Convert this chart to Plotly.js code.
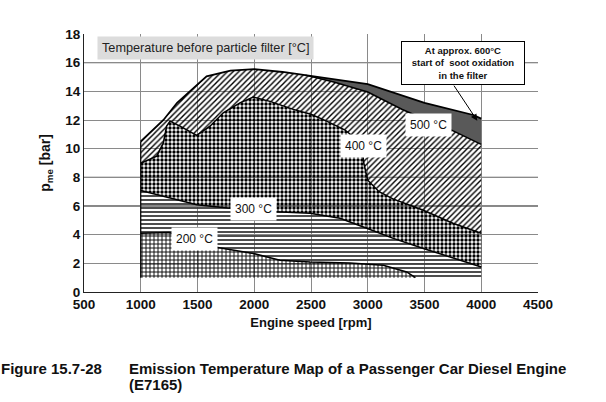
<!DOCTYPE html>
<html>
<head>
<meta charset="utf-8">
<script src="https://cdn.plot.ly/plotly-3.0.1.min.js"></script>
<style>
  html, body { margin: 0; padding: 0; background: #fff; }
  #plot { width: 606px; height: 402px; }
</style>
</head>
<body>
<div id="plot"></div>
<script>
// full load line (upper limit of the map)
let envX = [1000, 1200, 1320, 1450, 1580, 1790, 2000, 2250, 2450, 3000, 3500, 3930, 4000];
let envY = [10.5, 12.0, 13.2, 14.15, 15.05, 15.45, 15.55, 15.35, 15.13, 14.5, 13.2, 12.35, 12.1];

// isotherms
let l500X = [2450, 2700, 3000, 3300, 3500, 3725, 4000];
let l500Y = [15.13, 14.65, 13.95, 12.75, 12.05, 11.35, 10.3];

let l400X = [1000, 1140, 1199, 1228, 1258, 1346, 1493, 1610, 1727, 1874, 1992, 2139, 2344, 2500, 2638, 2800, 2903, 2950, 2965, 3000, 3100, 3222, 3490, 3750, 4000];
let l400Y = [8.98, 9.47, 10.4, 11.57, 11.92, 11.57, 10.92, 11.57, 12.5, 13.2, 13.6, 13.3, 12.74, 12.4, 11.92, 11.3, 10.64, 10.0, 9.0, 7.8, 7.0, 6.5, 5.7, 4.8, 4.1];

let l300X = [1000, 1250, 1493, 1786, 2139, 2491, 2755, 2991, 3225, 3490, 3750, 4000];
let l300Y = [7.08, 6.6, 6.08, 5.85, 5.61, 5.5, 5.15, 4.45, 3.74, 3.04, 2.4, 1.75];

let l200X = [1000, 1250, 1450, 1639, 1992, 2227, 2491, 2844, 3137, 3343, 3420];
let l200Y = [4.1, 4.15, 3.7, 3.16, 2.69, 2.22, 2.1, 2.03, 1.87, 1.4, 1.0];

let pMin = 1.0; // lower edge of the measured map

let tempLabels = ['200 °C', '300 °C', '400 °C', '500 °C'];
let tempLabelX = [1474, 1990, 2960, 3531];
let tempLabelY = [3.7, 5.8, 10.17, 11.62];

// grid lines that came out darker in the original print
let darkGridY = [16, 8, 6];
let darkGridX = [3500];

let font = 'Liberation Sans, Arial, sans-serif';

// helpers to glue curves into band polygons
function rev(a) { return a.slice().reverse(); }
let splitAt = 2450;
let envLeftX = envX.filter(v => v <= splitAt), envLeftY = envY.slice(0, envLeftX.length);
let envRightX = envX.slice(envLeftX.length - 1), envRightY = envY.slice(envLeftX.length - 1);

function band(x, y, pattern, color) {
  let t = {
    x: x, y: y, mode: 'lines', fill: 'toself',
    line: {width: 0, color: 'rgba(0,0,0,0)'},
    hoverinfo: 'skip'
  };
  if (pattern) {
    t.fillcolor = 'rgba(0,0,0,0)';
    t.fillpattern = pattern;
  } else {
    t.fillcolor = color;
  }
  return t;
}

function line(x, y, w) {
  return {x: x, y: y, mode: 'lines', line: {color: '#000', width: w || 1.5}, hoverinfo: 'skip'};
}

let data = [
  // 500-600 °C
  band(envRightX.concat(rev(l500X)), envRightY.concat(rev(l500Y)), null, '#595959'),
  // 400-500 °C
  band(envLeftX.concat(l500X, rev(l400X)), envLeftY.concat(l500Y, rev(l400Y)),
       {shape: '/', fgcolor: '#000', bgcolor: 'rgba(0,0,0,0)', size: 4, solidity: 0.35}),
  // 300-400 °C
  band(l400X.concat(rev(l300X)), l400Y.concat(rev(l300Y)),
       {shape: '.', fgcolor: '#000', bgcolor: 'rgba(0,0,0,0)', size: 4, solidity: 0.55}),
  // 200-300 °C
  band(l300X.concat([4000], rev(l200X)), l300Y.concat([pMin], rev(l200Y)),
       {shape: '-', fgcolor: '#3a3a3a', bgcolor: 'rgba(0,0,0,0)', size: 4, solidity: 0.45}),
  // < 200 °C
  band(l200X.concat([1000]), l200Y.concat([pMin]),
       {shape: '+', fgcolor: '#000', bgcolor: 'rgba(0,0,0,0)', size: 4, solidity: 0.4}),
  line(envX, envY, 1.8),
  line(l500X, l500Y),
  line(l400X, l400Y),
  line(l300X, l300Y),
  line(l200X, l200Y),
  line([1000, 1000], [pMin, envY[0]], 1.2)
];

let annotations = tempLabels.map((t, i) => ({
  x: tempLabelX[i], y: tempLabelY[i], text: t, showarrow: false,
  bgcolor: '#fff', borderpad: 4,
  font: {family: font, size: 12, color: '#111'}
}));

annotations.push({
  xref: 'paper', yref: 'paper', x: 0.268, y: 0.946, xanchor: 'center', yanchor: 'middle',
  text: 'Temperature before particle filter [°C]', showarrow: false,
  bgcolor: '#dcdcdc', borderpad: 4,
  font: {family: font, size: 12.7, color: '#222'}
});

// note box and its arrow
annotations.push({
  x: 3839, y: 16.0, xanchor: 'center', yanchor: 'middle',
  text: '<b>At approx. 600°C<br>start of  soot oxidation<br>in the filter</b>',
  showarrow: false,
  bgcolor: '#fff', bordercolor: '#000', borderwidth: 1, borderpad: 3,
  width: 116, height: 36,
  font: {family: font, size: 9.5, color: '#111'}
});
annotations.push({
  x: 3965, y: 11.95, axref: 'x', ayref: 'y', ax: 3751, ay: 14.5,
  text: '', showarrow: true, arrowhead: 2, arrowsize: 1.3, arrowwidth: 1, arrowcolor: '#000'
});

annotations.push({
  xref: 'paper', yref: 'paper', x: -0.187, y: -0.296, xanchor: 'left', yanchor: 'middle',
  text: '<b>Figure 15.7-28</b>', showarrow: false,
  font: {family: font, size: 15, color: '#111'}
});
annotations.push({
  xref: 'paper', yref: 'paper', x: 0.094, y: -0.296, xanchor: 'left', yanchor: 'middle',
  text: '<b>Emission Temperature Map of a Passenger Car Diesel Engine</b>', showarrow: false,
  font: {family: font, size: 15, color: '#111'}
});
annotations.push({
  xref: 'paper', yref: 'paper', x: 0.094, y: -0.36, xanchor: 'left', yanchor: 'middle',
  text: '<b>(E7165)</b>', showarrow: false,
  font: {family: font, size: 15, color: '#111'}
});

let shapes = darkGridY.map(v => ({
  type: 'line', layer: 'below', xref: 'paper', x0: 0, x1: 1, y0: v, y1: v,
  line: {color: '#111', width: 1}
})).concat(darkGridX.map(v => ({
  type: 'line', layer: 'below', yref: 'paper', y0: 0, y1: 1, x0: v, x1: v,
  line: {color: '#111', width: 1}
})));

let layout = {
  width: 606, height: 402,
  margin: {l: 84, r: 68, t: 34, b: 110},
  paper_bgcolor: '#fff', plot_bgcolor: '#fff',
  showlegend: false,
  font: {family: font, color: '#111'},
  xaxis: {
    range: [500, 4500], dtick: 500, tick0: 500,
    showgrid: true, gridcolor: '#8a8a8a', gridwidth: 1,
    zeroline: false, showline: true, linecolor: '#222', linewidth: 1,
    ticks: '', tickfont: {family: font, size: 13.5, color: '#111', weight: 'bold'},
    title: {text: '<b>Engine speed [rpm]</b>', font: {family: font, size: 13, color: '#111'}, standoff: 6}
  },
  yaxis: {
    range: [0, 18], dtick: 2, tick0: 0,
    showgrid: true, gridcolor: '#8a8a8a', gridwidth: 1,
    zeroline: false, showline: true, linecolor: '#222', linewidth: 1,
    ticks: '', tickfont: {family: font, size: 13.5, color: '#111', weight: 'bold'},
    title: {text: '<b>p<sub>me</sub> [bar]</b>', font: {family: font, size: 14, color: '#111'}, standoff: 11}
  },
  shapes: shapes,
  annotations: annotations
};

Plotly.newPlot('plot', data, layout, {displayModeBar: false, staticPlot: true});
</script>
</body>
</html>
